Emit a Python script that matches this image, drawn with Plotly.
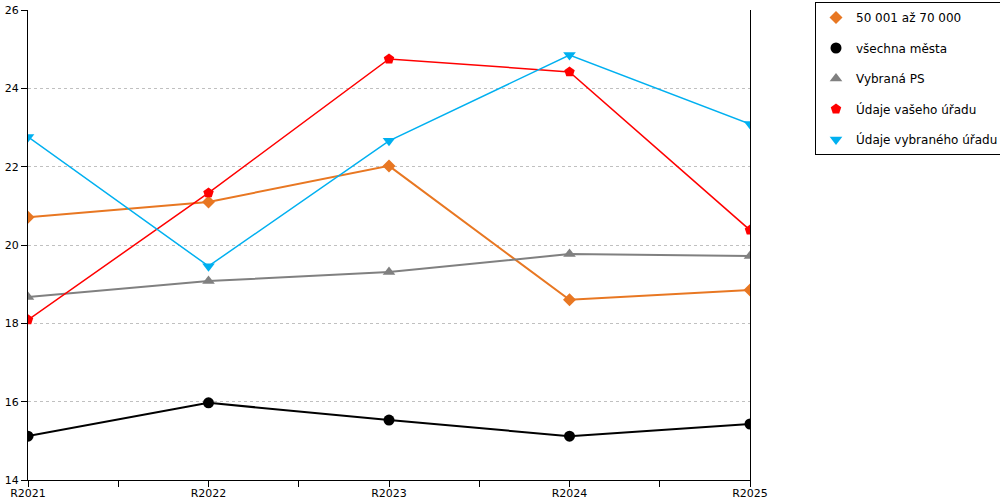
import plotly.graph_objects as go

years = ['R2021', 'R2022', 'R2023', 'R2024', 'R2025']

# values per series
skupina = [20.71, 21.10, 22.02, 18.60, 18.85]
vsechna_mesta = [15.12, 15.97, 15.53, 15.12, 15.43]
vybrana_ps = [18.67, 19.08, 19.31, 19.77, 19.72]
vas_urad = [18.09, 21.33, 24.75, 24.42, 20.38]
vybrany_urad = [22.76, 19.46, 22.66, 24.85, 23.09]

series = [
    ('50 001 až 70 000', skupina, '#E87722', 'diamond', 10, 2),
    ('všechna města', vsechna_mesta, '#000000', 'circle', 11, 2),
    ('Vybraná PS', vybrana_ps, '#808080', 'triangle-up', 11, 2),
    ('Údaje vašeho úřadu', vas_urad, '#FF0000', 'pentagon', 11, 1.5),
    ('Údaje vybraného úřadu', vybrany_urad, '#00B0F0', 'triangle-down', 11, 1.5),
]

xpos = list(range(len(years)))

fig = go.Figure()
for i, (name, vals, col, sym, size, lw) in enumerate(series):
    fig.add_trace(go.Scatter(x=xpos, y=vals, name=name, mode='lines+markers',
                             line=dict(color=col, width=lw),
                             marker=dict(color=col, symbol=sym, size=size),
                             legendgroup='g%d' % i, showlegend=False))
    # legend entry with the symbol only
    fig.add_trace(go.Scatter(x=[None], y=[None], name=name, mode='markers',
                             marker=dict(color=col, symbol=sym, size=size),
                             legendgroup='g%d' % i, showlegend=True))

fig.update_layout(
    width=1000, height=500,
    margin=dict(l=28, r=250, t=10, b=20),
    plot_bgcolor='white', paper_bgcolor='white',
    font=dict(family='DejaVu Sans', size=11, color='black'),
    legend=dict(xref='container', yref='container', x=0.815, y=0.996,
                xanchor='left', yanchor='top',
                bordercolor='black', borderwidth=1, tracegroupgap=11.5,
                itemwidth=30, font=dict(size=12)),
)
fig.update_xaxes(range=[0, 4], tickvals=xpos, ticktext=years,
                 showgrid=False, zeroline=False, showline=True,
                 linecolor='black', linewidth=1, ticks='outside',
                 ticklen=6, tickcolor='black', automargin=False,
                 minor=dict(dtick=0.5, ticks='outside', ticklen=6,
                            tickcolor='black', showgrid=False))
try:
    # pull the year labels up closer to the ticks
    fig.update_xaxes(ticklabelstandoff=-3)
except ValueError:
    pass
fig.update_yaxes(range=[14, 26], dtick=2, showgrid=True, gridcolor='#c0c0c0',
                 griddash='dot', gridwidth=1, zeroline=False, showline=True,
                 linecolor='black', linewidth=1, mirror=True, ticks='outside',
                 ticklen=6, tickcolor='black', automargin=False)

fig.write_html("out.html", config={'displayModeBar': False},
               post_script="document.body.style.margin='0';"
                           "document.body.style.overflow='hidden';")
